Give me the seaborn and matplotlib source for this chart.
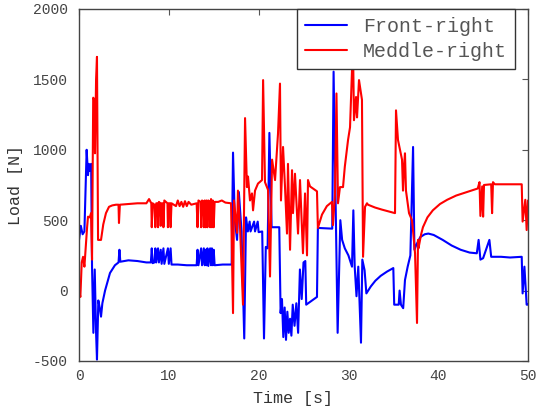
import matplotlib
matplotlib.use('Agg')
import numpy as np
import pandas as pd
import matplotlib.pyplot as plt
import seaborn as sns

# Datele: timp [s] si sarcina [N]
t_front = [0.0, 0.2, 0.4, 0.6, 0.85, 1.0, 1.1, 1.2, 1.35, 1.45, 1.6, 1.75, 1.9, 2.0, 2.15, 2.3, 2.45, 2.6, 2.9,
           3.45, 4.0, 4.4, 4.5, 4.6, 5.5, 6.5, 7.5, 8.0,
           8.1, 8.2, 8.4, 8.5, 8.6, 8.8, 8.9, 9.1, 9.2, 9.4, 9.5, 9.9, 10.0, 10.2, 10.3, 11.0, 12.0, 13.1,
           13.2, 13.3, 13.6, 13.7, 13.9, 14.0, 14.1, 14.2, 14.3, 14.4, 14.6, 14.7, 14.8, 14.9, 15.0, 15.1,
           16.0, 17.0, 17.15, 17.35, 17.6, 17.8, 18.0, 18.1, 18.4, 18.6, 18.8, 19.0, 19.1, 19.5, 19.6, 19.9,
           20.0, 20.4, 20.6, 20.8, 21.0, 21.2, 21.45, 22.3, 22.45, 22.6, 22.75, 22.9, 23.05, 23.2, 23.35,
           23.5, 23.65, 23.8, 24.0, 24.2, 24.4, 24.6, 24.8, 25.0, 25.2, 25.3, 26.5, 26.6, 28.2, 28.35, 28.8,
           29.1, 29.3, 29.6, 30.0, 30.4, 30.55, 30.7, 30.9, 31.1, 31.4, 31.55, 31.8, 32.0, 32.5, 33.0, 33.6,
           34.3, 35.0, 35.1, 35.6, 35.7, 35.85, 36.1, 36.3, 36.6, 36.9, 37.2, 37.35, 37.6, 38.0, 38.5, 38.9,
           39.5, 40.5, 41.5, 42.5, 43.5, 44.3, 44.5, 44.7, 45.0, 45.7, 45.9, 47.0, 48.0, 49.3, 49.4, 49.6,
           49.85, 50.0]
front_right = [360, 460, 400, 420, 1000, 820, 900, 850, 900, 170, -300, 150, -300, -490, -70, -120, -185, -90, 0,
               125, 180, 200, 290, 205, 215, 210, 200, 200,
               300, 195, 200, 300, 200, 300, 200, 290, 190, 300, 190, 300, 190, 300, 185, 185, 180, 180,
               290, 180, 300, 180, 300, 180, 290, 180, 300, 175, 300, 180, 300, 180, 290, 180,
               185, 185, 980, 500, 360, 700, 520, 420, -340, 520, 420, 490, 420, 490, 420, 490,
               415, 420, -340, 310, 300, 1120, 450, 450, -160, -60, -330, -120, -350, -150, -300,
               -200, -320, -100, -250, -90, -300, 150, -60, 200, 210, -100, -45, 445, 440, 1555, -300,
               500, 360, 300, 250, 170, 570, 170, -40, 170, -370, 220, 145, -20, 30, 70, 105,
               135, 160, -100, -100, 0, -100, -125, 75, 170, 250, 1020, 290, 330, 380, 400, 405,
               395, 360, 320, 290, 270, 265, 360, 220, 230, 360, 240, 240, 235, 240, -20, 170,
               -100, -100]

t_middle = [0.0, 0.15, 0.3, 0.45, 0.6, 0.78, 0.9, 1.0, 1.2, 1.34, 1.45, 1.52, 1.58, 1.7, 1.78, 1.9, 2.0, 2.06,
            2.12, 2.45, 2.7, 3.0, 3.34, 3.7, 4.12, 4.4, 4.45, 4.55, 5.5, 6.5, 7.5, 7.8, 8.05,
            8.1, 8.2, 8.4, 8.5, 8.6, 8.75, 8.8, 8.9, 9.05, 9.1, 9.2, 9.35, 9.4, 9.5, 9.85, 9.9, 10.0, 10.15,
            10.2, 10.3, 10.8, 11.0, 11.2, 11.4, 11.6, 11.8, 12.0, 12.2, 12.5, 13.1, 13.2, 13.3, 13.55, 13.6,
            13.7, 13.85, 13.9, 14.0, 14.1, 14.2, 14.3, 14.4, 14.55, 14.6, 14.7, 14.8, 14.9, 15.0, 15.1, 15.5,
            15.9, 16.3, 16.93, 17.15, 17.26, 17.6, 17.7, 17.93, 18.26, 18.49, 18.7, 18.82, 19.04, 19.26,
            19.38, 19.6, 19.93, 20.38, 20.5, 20.71, 21.05, 21.27, 21.5, 21.83, 22.16, 22.38, 22.49, 22.72,
            22.94, 23.16, 23.27, 23.5, 23.72, 23.83, 24.05, 24.39, 24.61, 24.94, 25.17, 25.39, 25.5, 25.72,
            26.5, 26.6, 27.06, 27.6, 28.17, 28.28, 28.5, 28.67, 28.84, 29.06, 29.4, 29.6, 29.96, 30.18,
            30.4, 30.51, 30.62, 30.85, 30.96, 31.18, 31.4, 31.51, 31.63, 31.85, 32.07, 32.18, 32.96, 33.74,
            34.63, 35.19, 35.3, 35.52, 35.97, 36.08, 36.19, 36.3, 36.41, 36.75, 37.08, 37.19, 37.42, 37.64,
            37.75, 37.8, 38.1, 38.3, 38.8, 39.4, 40.2, 41.0, 42.0, 43.2, 44.4, 44.6, 44.7, 44.9, 45.0, 45.1,
            45.9, 46.0, 46.1, 46.3, 47.5, 49.3, 49.4, 49.7, 49.85, 50.0]
middle_right = [0, -45, 200, 240, 170, 340, 450, 525, 520, 550, 220, 835, 1370, 1355, 975, 1500, 1660, 1070,
                360, 360, 470, 550, 595, 605, 610, 610, 480, 610, 615, 620, 620, 650, 620,
                450, 620, 610, 450, 620, 620, 450, 630, 620, 460, 620, 620, 450, 640, 620, 450, 620, 620,
                450, 620, 600, 640, 600, 630, 595, 635, 600, 630, 610, 620, 450, 640, 630, 450,
                640, 630, 450, 640, 450, 640, 450, 640, 630, 450, 650, 450, 640, 450, 630, 630,
                640, 625, 620, -160, 640, 410, 710, 450, -100, 1225, 735, 810, 640, 690,
                570, 710, 760, 785, 1495, 770, 715, 100, 930, 785, 1115, 1470, 640, 1020,
                735, 405, 900, 290, 855, 550, 830, 405, 785, 265, 690, 250, 785, 740,
                705, 445, 540, 600, 630, 465, 680, 1400, 620, 735, 735, 880, 1070, 1160,
                1565, 1740, 1210, 1375, 1230, 1495, 1400, 1355, 240, 595, 620, 610, 590, 575,
                560, 550, 1280, 1070, 930, 710, 880, 975, 710, 550, 500, 430, 265, -230,
                360, 300, 400, 450, 520, 570, 615, 645, 675, 700, 725, 770, 530, 740, 525, 750,
                755, 550, 770, 755, 755, 755, 490, 645, 430, 640]

front = pd.DataFrame({'Time': t_front, 'Load': front_right})
middle = pd.DataFrame({'Time': t_middle, 'Load': middle_right})

sns.set_style('white')
plt.rcParams['font.family'] = ['Liberation Mono', 'DejaVu Sans Mono']
plt.rcParams['axes.unicode_minus'] = False

fig = plt.figure(figsize=(5.39, 4.08), dpi=100)
ax = fig.add_axes([0.1466, 0.1152, 0.8330, 0.8628])

# Liniile pentru cele doua roti
sns.lineplot(data=front, x='Time', y='Load', estimator=None, sort=False, color='blue',
             linewidth=1.5, label='Front-right', ax=ax)
sns.lineplot(data=middle, x='Time', y='Load', estimator=None, sort=False, color='red',
             linewidth=1.5, label='Meddle-right', ax=ax)

ax.set_xlim(0, 50)
ax.set_ylim(-500, 2000)
ax.set_xticks(np.arange(0, 51, 10))
ax.set_yticks(np.arange(-500, 2001, 500))
ax.tick_params(direction='in', top=True, right=True, length=4, width=0.8,
               labelsize=10.5, colors='#555555', labelcolor='#444444')
ax.tick_params(axis='y', pad=8)
ax.tick_params(axis='x', pad=6)
for s in ax.spines.values():
    s.set_color('#444444')
    s.set_linewidth(1.0)

ax.set_xlabel('Time [s]', fontsize=12, color='#333333')
ax.xaxis.set_label_coords(0.477, -0.085)
ax.set_ylabel('Load [N]', fontsize=12, color='#333333')
ax.yaxis.set_label_coords(-0.125, 0.5)

leg = ax.legend(loc='upper right', bbox_to_anchor=(0.971, 1.0), borderaxespad=0,
                fontsize=14.4, handlelength=2.1, handletextpad=0.8, borderpad=0.4,
                labelspacing=0.3, fancybox=False, framealpha=1)
leg.get_frame().set_edgecolor('#333333')
leg.get_frame().set_linewidth(1.0)
for txt in leg.get_texts():
    txt.set_color('#555555')

plt.savefig('out.png', dpi=100)
